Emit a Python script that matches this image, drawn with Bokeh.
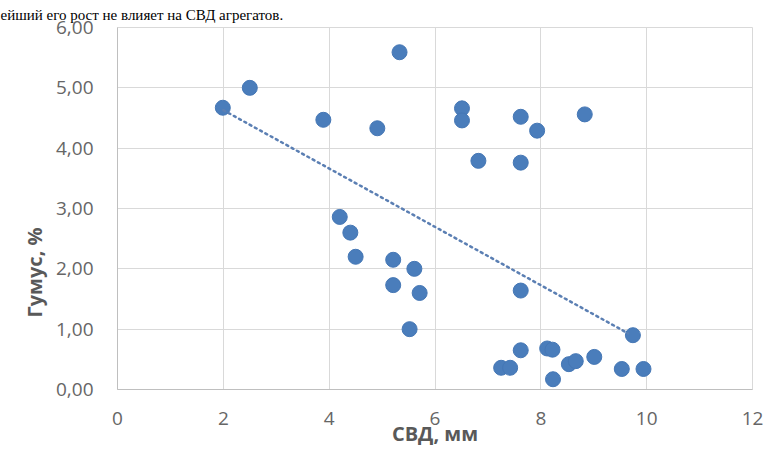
from bokeh.plotting import figure
from bokeh.models import FixedTicker, CustomJSTickFormatter, ColumnDataSource, Title
from bokeh.embed import file_html
from bokeh.resources import INLINE

# Data
svd_mm = [1.99, 2.50, 3.89, 4.91, 5.33, 4.20, 4.40, 4.50, 5.21, 5.61, 5.21, 5.71, 5.52,
          6.51, 6.51, 7.62, 7.93, 8.83, 6.82, 7.62, 7.62, 9.74, 7.62, 8.12, 8.22,
          8.53, 8.66, 9.01, 9.53, 9.94, 8.23, 7.25, 7.42]
humus = [4.67, 5.00, 4.47, 4.33, 5.59, 2.86, 2.60, 2.20, 2.15, 2.00, 1.73, 1.60, 1.00,
         4.66, 4.46, 4.52, 4.29, 4.56, 3.79, 3.76, 1.64, 0.90, 0.65, 0.68, 0.66,
         0.42, 0.47, 0.54, 0.34, 0.34, 0.17, 0.36, 0.36]
trend_x = [2.0, 9.65]
trend_y = [4.63, 0.93]
x_ticks = [0, 2, 4, 6, 8, 10, 12]
y_ticks = [0, 1, 2, 3, 4, 5, 6]
x_title = "СВД, мм"
y_title = "Гумус, %"
top_text = "ейший его рост не влияет на СВД агрегатов."

GRAY = "#595959"
TICK_GRAY = "#666666"
FONT = "Open Sans"

p = figure(width=764, height=450, x_range=(0, 12), y_range=(0, 6),
           output_backend="svg", toolbar_location=None,
           min_border_left=117, min_border_right=12, min_border_top=26, min_border_bottom=61)
p.background_fill_color = "white"
p.border_fill_color = "white"
p.outline_line_color = "#d9d9d9"

for ax, ticks in ((p.xaxis, x_ticks), (p.yaxis, y_ticks)):
    ax.ticker = FixedTicker(ticks=ticks)
    ax.major_tick_line_color = None
    ax.minor_tick_line_color = None
    ax.major_tick_in = 0
    ax.major_tick_out = 0
    ax.axis_line_color = "#bfbfbf"
    ax.major_label_text_color = TICK_GRAY
    ax.major_label_text_font = FONT
    ax.major_label_text_font_size = "19px"

p.xaxis.major_label_standoff = 22
p.yaxis.major_label_standoff = 24
p.yaxis.formatter = CustomJSTickFormatter(code="return tick.toFixed(2).replace('.', ',');")

p.xaxis.axis_label = x_title
p.xaxis.axis_label_standoff = -8
p.xaxis.axis_label_text_font = FONT
p.xaxis.axis_label_text_font_style = "bold"
p.xaxis.axis_label_text_font_size = "20px"
p.xaxis.axis_label_text_color = GRAY

p.add_layout(Title(text=y_title, align="left", offset=72, standoff=10,
                   text_font=FONT, text_font_style="bold", text_font_size="20px",
                   text_color=GRAY), "left")

p.add_layout(Title(text=top_text, align="left", offset=-117, standoff=9,
                   text_font="Liberation Serif", text_font_style="normal",
                   text_font_size="15px", text_color="black"), "above")

p.xgrid.ticker = FixedTicker(ticks=x_ticks)
p.ygrid.ticker = FixedTicker(ticks=y_ticks)
p.grid.grid_line_color = "#d9d9d9"
p.grid.grid_line_width = 1

src = ColumnDataSource(dict(x=svd_mm, y=humus))
p.scatter("x", "y", source=src, size=15, fill_color="#4a7dbb", line_color="#4577b5", line_width=1)
p.line(trend_x, trend_y, line_color="#5b7fb3", line_width=2.5, line_dash="2 4", line_cap="round")

open("out.html", "w").write(file_html(p, INLINE))
